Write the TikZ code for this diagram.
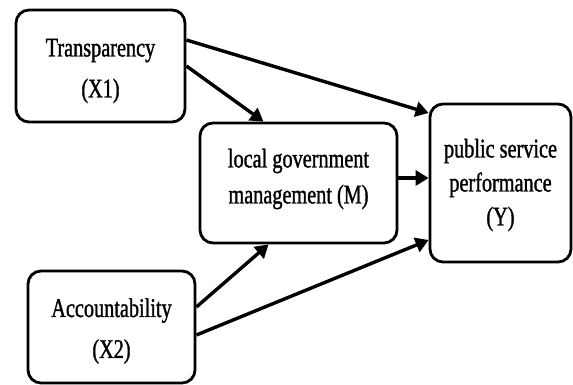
\documentclass[tikz,border=0pt]{standalone}
\usepackage{fontspec}
\setmainfont{Liberation Serif}[FakeStretch=0.75,FakeBold=1.2]
\usetikzlibrary{arrows.meta}
\begin{document}
\begin{tikzpicture}[x=1pt,y=-1pt,
  box/.style={draw=black, line width=2.8pt, rounded corners=13pt, inner sep=0pt},
  txt/.style={align=center, inner sep=0pt},
  arr/.style={line width=3.4pt, -{Triangle[length=13pt,width=15pt]}}]
\useasboundingbox (0,0) rectangle (573,385);
\node[box, minimum width=169pt, minimum height=112pt] (X1) at (100.5,66) {};
\node[box, minimum width=167pt, minimum height=112pt] (X2) at (111.5,327) {};
\node[box, minimum width=197pt, minimum height=120pt] (M) at (298.5,183) {};
\node[box, minimum width=141pt, minimum height=158pt] (Y) at (500.5,183) {};
\node[txt, font=\fontsize{27}{41}\selectfont] (X1t) at ([yshift=-5pt]X1.center) {Transparency\\(X1)};
\node[txt, font=\fontsize{27}{41}\selectfont] (X2t) at ([yshift=-4pt]X2.center) {Accountability\\(X2)};
\node[txt, font=\fontsize{27}{36}\selectfont] (Mt) at ([yshift=4pt]M.center) {local government\\management (M)};
\node[txt, font=\fontsize{27}{34}\selectfont] (Yt) at ([yshift=-2pt]Y.center) {public service\\performance\\(Y)};
\draw[arr] ([yshift=26pt]X1.east) -- ([yshift=70pt]Y.west);
\draw[arr] (X1.east) -- ([xshift=-35pt]M.north);
\draw[arr] ([yshift=5pt]M.east) -- ([yshift=5pt]Y.west);
\draw[arr] ([yshift=20pt]X2.east) -- ([xshift=-30pt]M.south);
\draw[arr] ([yshift=-8pt]X2.east) -- ([yshift=-57pt]Y.west);
\end{tikzpicture}
\end{document}
